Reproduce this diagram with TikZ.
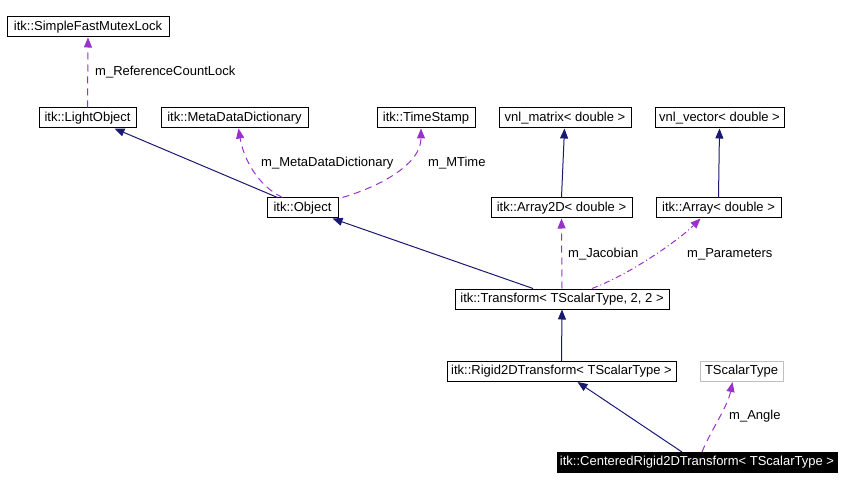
\documentclass[tikz,border=0pt]{standalone}
\usepackage{fontspec}
\setmainfont{Liberation Sans}
\usetikzlibrary{arrows.meta}
\definecolor{navy}{RGB}{25,25,112}
\definecolor{orchid}{RGB}{153,50,204}
\definecolor{grise}{RGB}{191,191,191}

\begin{document}
\begin{tikzpicture}[
		x=1pt, y=-1pt,
		cls/.style={draw=black, fill=white, line width=1pt,
			minimum height=20pt, inner sep=0pt,
			font=\fontsize{13}{15}\selectfont},
		lbl/.style={anchor=west, inner sep=0pt,
			font=\fontsize{13}{15}\selectfont},
		inh/.style={draw=navy, line width=1pt,
			-{Triangle[length=10pt,width=8pt]}},
		use/.style={draw=orchid, line width=1pt,
			dash pattern=on 7pt off 5pt,
			-{Triangle[length=10pt,width=8pt]}}
		]
		\useasboundingbox (0,0) rectangle (841,489);
		
		% classes
		\node[cls, minimum width=162pt] (lock)   at (88,27)    {itk::SimpleFastMutexLock};
		\node[cls, minimum width=97pt]  (light)  at (87.5,118) {itk::LightObject};
		\node[cls, minimum width=147pt] (meta)   at (234.5,118) {itk::MetaDataDictionary};
		\node[cls, minimum width=98pt]  (stamp)  at (426,118)  {itk::TimeStamp};
		\node[cls, minimum width=132pt] (matrix) at (565,118)  {vnl\_matrix< double >};
		\node[cls, minimum width=129pt] (vector) at (719.5,118) {vnl\_vector< double >};
		\node[cls, minimum width=71pt]  (object) at (302.5,208) {itk::Object};
		\node[cls, minimum width=141pt] (array2d) at (561.5,208) {itk::Array2D< double >};
		\node[cls, minimum width=125pt] (array)  at (718.5,208) {itk::Array< double >};
		\node[cls, minimum width=214pt] (transform) at (562,299) {itk::Transform< TScalarType, 2, 2 >};
		\node[cls, minimum width=229pt] (rigid)  at (561.5,371.5) {itk::Rigid2DTransform< TScalarType >};
		\node[cls, draw=grise, minimum width=83pt] (scalar) at (741.5,371.5) {TScalarType};
		\node[cls, fill=black, text=white, minimum width=280pt] (centered) at (697,462.5) {itk::CenteredRigid2DTransform< TScalarType >};
		
		% member labels
		\node[lbl] (lref)    at (95,72)   {m\_ReferenceCountLock};
		\node[lbl] (lmeta)   at (261,163) {m\_MetaDataDictionary};
		\node[lbl] (ltime)   at (428,163) {m\_MTime};
		\node[lbl] (ljac)    at (568,254) {m\_Jacobian};
		\node[lbl] (lparam)  at (687,254) {m\_Parameters};
		\node[lbl] (langle)  at (729,416) {m\_Angle};
		
		% inheritance
		\draw[inh] ([xshift=-25pt]object.north) -- ([xshift=27pt]light.south);
		\draw[inh] ([xshift=-29pt]transform.north) -- ([xshift=30pt]object.south);
		\draw[inh] (array2d.north) -- ([xshift=-0.5pt]matrix.south);
		\draw[inh] (array.north) -- (vector.south);
		\draw[inh] (rigid.north) -- (transform.south);
		\draw[inh] ([xshift=-15pt]centered.north) -- ([xshift=16pt]rigid.south);
		
		% members
		\draw[use] (light.north) -- (lock.south);
		\draw[use] ([xshift=-20pt]object.north) .. controls +(-25,-12) and +(5,30) .. ([xshift=4pt]meta.south);
		\draw[use] ([xshift=40pt]object.north) .. controls +(40,-12) and +(0,35) .. ([xshift=-5pt]stamp.south);
		\draw[use] (transform.north) -- (array2d.south);
		\draw[use, dash pattern=on 6pt off 3pt on 1pt off 3pt] ([xshift=30pt]transform.north) .. controls +(40,-15) and +(-20,20) .. ([xshift=-18pt]array.south);
		\draw[use] ([xshift=5pt]centered.north) .. controls +(8,-20) and +(-5,25) .. ([xshift=-9pt]scalar.south);
\end{tikzpicture}
\end{document}
